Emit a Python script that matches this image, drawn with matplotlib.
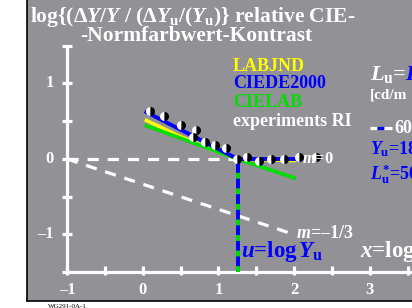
import numpy as np
import matplotlib
matplotlib.use("Agg")
import matplotlib.pyplot as plt

plt.rcParams['font.family'] = 'Liberation Serif'
plt.rcParams['font.weight'] = 'bold'
plt.rcParams['mathtext.fontset'] = 'custom'
plt.rcParams['mathtext.rm'] = 'Liberation Serif:bold'
plt.rcParams['mathtext.it'] = 'Liberation Serif:italic:bold'
plt.rcParams['mathtext.bf'] = 'Liberation Serif:bold'

# data
u_log = 1.255  # log of Y_u = 18
x_ticks = [-1, 0, 1, 2, 3]
y_ticks = [-1, 0, 1]

labjnd_x = [0.05, 0.49, 0.93, 1.255, 2.0]
labjnd_y = [0.51, 0.30, 0.12, 0.0, -0.02]
ciede_x = [0.05, 1.255, 2.03]
ciede_y = [0.62, 0.0, 0.0]
cielab_x = [0.05, 1.255, 2.0]
cielab_y = [0.44, 0.0, -0.25]
exp_x = [0.10, 0.28, 0.50, 0.70, 0.66, 0.82, 0.96, 1.10, 1.25, 1.38, 1.54, 1.69, 1.86, 2.07, 2.29]
exp_y = [0.63, 0.57, 0.45, 0.38, 0.29, 0.22, 0.19, 0.14, 0.0, 0.03, -0.03, 0.0, 0.0, 0.02, 0.03]

fig = plt.figure(figsize=(4.12, 3.08), dpi=100, facecolor='w')
ax = fig.add_axes([27 / 412, 7 / 308, 385 / 412, 301 / 308], facecolor='#919196')
ax.set_xlim(-1.528, 3.557)
ax.set_ylim(-1.881, 2.106)
ax.set_xticks([])
ax.set_yticks([])
for s in ('top', 'right'):
    ax.spines[s].set_visible(False)
for s in ('left', 'bottom'):
    ax.spines[s].set_color('k')
    ax.spines[s].set_linewidth(1.2)

W = 'white'
# axes lines
ax.plot([-1, -1], [-1.5, 1.48], color=W, lw=2.3, solid_capstyle='butt')
ax.plot([-1, 3.6], [-1.5, -1.5], color=W, lw=2.3, solid_capstyle='butt')
for yv in np.arange(-1.5, 1.51, 0.5):
    ax.plot([-1.07, -0.93], [yv, yv], color=W, lw=2.3, solid_capstyle='butt')
for xv in np.arange(-1, 3.6, 0.5):
    ax.plot([xv, xv], [-1.53, -1.42], color=W, lw=2.3, solid_capstyle='butt')
for yv in y_ticks:
    ax.text(-1.17, yv, '%d' % yv if yv >= 0 else '\u2013%d' % -yv, color=W,
            fontsize=12, ha='right', va='center')
for xv in x_ticks:
    ax.text(xv, -1.74, '%d' % xv if xv >= 0 else '\u2013%d' % -xv, color=W,
            fontsize=12, ha='center', va='center')

# reference dashed lines
ax.plot([-1, u_log], [0, 0], color=W, lw=2.3, dashes=(3.5, 2.8))
sx = np.array([-1, 1.93])
ax.plot(sx, -(sx + 1) / 3, color=W, lw=2.3, dashes=(3.5, 2.8))

# vertical at u
ax.plot([u_log, u_log], [-1.5, 0], color='#0000ff', lw=2.8, solid_capstyle='butt')
ax.plot([u_log, u_log], [-1.5, 0], color='#00dd00', lw=2.8, dashes=(1.5, 2.5))

# curves
ax.plot(labjnd_x, labjnd_y, color='#ffff00', lw=2.6)
ax.plot(cielab_x, cielab_y, color='#00dd00', lw=2.6)
ax.plot(ciede_x, ciede_y, color='#0000ff', lw=2.8)
ax.plot(exp_x, exp_y, ls='none', marker='o', ms=6.5, fillstyle='left',
        markerfacecolor='white', markerfacecoloralt='black', markeredgewidth=0)

# legend text
lx = 1.19
ax.text(lx, 1.17, 'LABJND', color='#ffff00', fontsize=13)
ax.text(lx, 0.94, 'CIEDE2000', color='#0000ff', fontsize=13)
ax.text(lx, 0.69, 'CIELAB', color='#00dd00', fontsize=13)
ax.text(lx, 0.44, 'experiments RI', color=W, fontsize=13)

# labels
ax.text(2.11, 0.0, r'$m$=0', color=W, fontsize=12, va='center')
ax.text(2.03, -1.04, r'$m$=' + '\u20131/3', color=W, fontsize=13)
ax.text(1.30, -1.30, r'$u$=log$\,Y_{\mathrm{u}}$', color='#0000ff', fontsize=16.5)
ax.text(2.87, -1.30, r'$x$=log', color=W, fontsize=16.5)

# right side
ax.text(3.0, 1.04, r'$L_{\mathrm{u}}$=', color=W, fontsize=16)
ax.text(3.46, 1.04, r'$L$', color='#0000ff', fontsize=16)
ax.text(3.0, 0.8, '[cd/m', color=W, fontsize=11)
ax.plot([2.996, 3.1], [0.41, 0.41], color=W, lw=2.3, solid_capstyle='butt')
ax.plot([3.1, 3.19], [0.41, 0.41], color='#0000ff', lw=2.3, solid_capstyle='butt')
ax.plot([3.19, 3.287], [0.41, 0.41], color=W, lw=2.3, solid_capstyle='butt')
ax.text(3.33, 0.34, '60', color=W, fontsize=13)
ax.text(3.0, 0.06, r'$Y_{\mathrm{u}}$=18', color='#0000ff', fontsize=13)
ax.text(3.0, -0.27, r'$L^{*}_{\mathrm{u}}$=50', color='#0000ff', fontsize=13)

# title
fig.text(30 / 412, 1 - 22 / 308, r'log{($\Delta Y/Y$ / ($\Delta Y_{\mathrm{u}}$/($Y_{\mathrm{u}}$)} relative CIE-',
         color=W, fontsize=15.5)
fig.text(80 / 412, 1 - 41 / 308, '-Normfarbwert-Kontrast', color=W, fontsize=15.5)
fig.text(48 / 412, 0.5 / 308, 'WG291-0A-1', color='k', fontsize=5, fontweight='normal')

fig.savefig('out.png', dpi=100)
